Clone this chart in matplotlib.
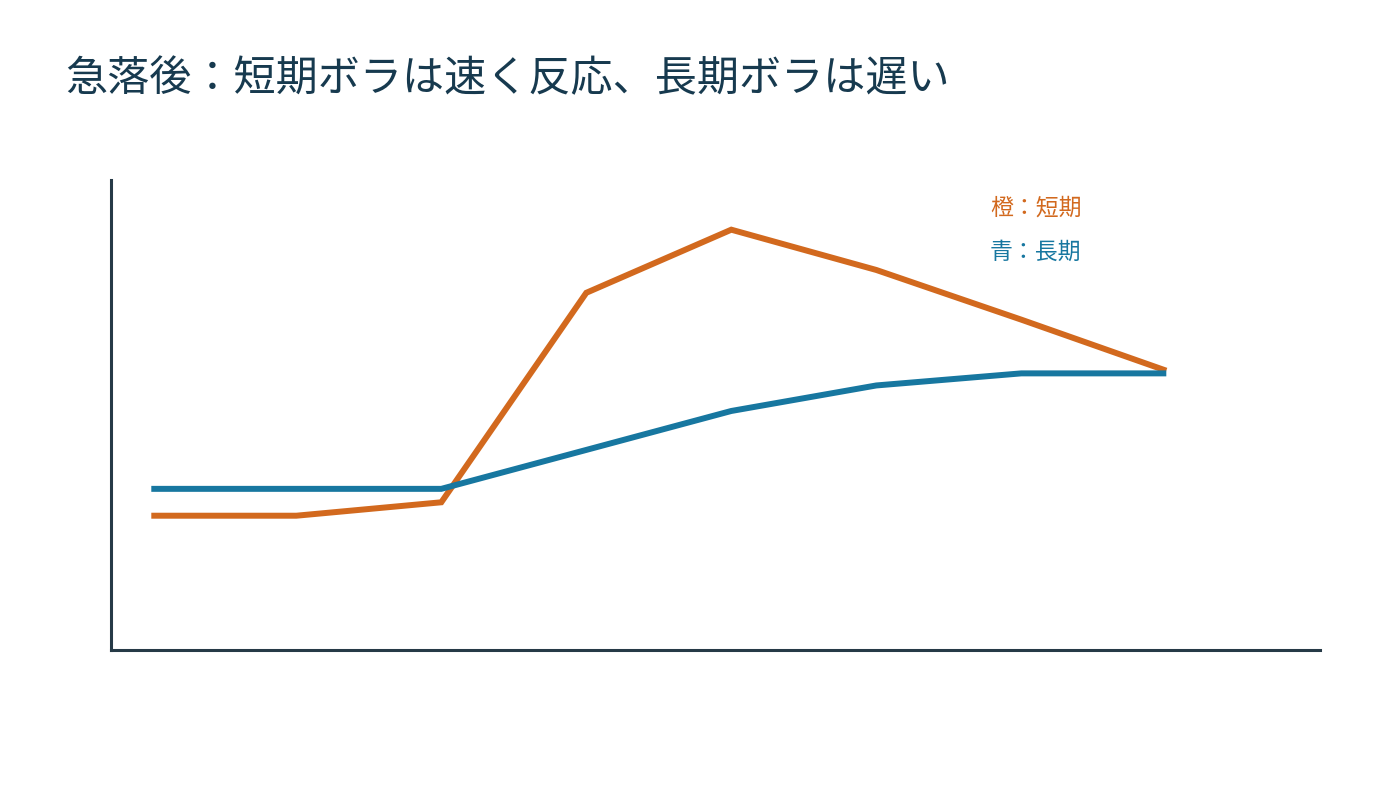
import matplotlib
matplotlib.use("Agg")
import matplotlib.pyplot as plt

plt.rcParams['font.family'] = ['Noto Sans CJK JP', 'DejaVu Sans']

title = "急落後：短期ボラは速く反応、長期ボラは遅い"
steps = [0, 1, 2, 3, 4, 5, 6, 7]
short_vol = [10.0, 10.0, 11.0, 26.6, 31.3, 28.3, 24.6, 20.8]
long_vol = [12.0, 12.0, 12.0, 14.9, 17.8, 19.7, 20.6, 20.6]
label_short = "橙：短期"
label_long = "青：長期"

orange = "#D2691E"
blue = "#1777A0"
dark = "#263A47"
title_color = "#173A4F"

fig = plt.figure(figsize=(14, 7.88), dpi=100)
ax = fig.add_axes([110.7 / 1400, 1 - 650 / 788, (1320 - 110.7) / 1400, (650 - 180) / 788])

ax.plot(steps, short_vol, color=orange, linewidth=4.3, solid_capstyle='butt', solid_joinstyle='miter')
ax.plot(steps, long_vol, color=blue, linewidth=4.3, solid_capstyle='butt', solid_joinstyle='miter')

ax.set_xlim(-0.28, 8.06)
ax.set_ylim(0, 35)
ax.set_xticks([])
ax.set_yticks([])
for s in ['top', 'right']:
    ax.spines[s].set_visible(False)
for s in ['left', 'bottom']:
    ax.spines[s].set_color(dark)
    ax.spines[s].set_linewidth(2.2)

fig.text(65 / 1400, 1 - 79 / 788, title, fontsize=30.3, color=title_color, ha='left', va='center')
fig.text(990 / 1400, 1 - 208 / 788, label_short, fontsize=16.5, color=orange, ha='left', va='center')
fig.text(990 / 1400, 1 - 252 / 788, label_long, fontsize=16.5, color=blue, ha='left', va='center')

fig.savefig("out.png", dpi=100, facecolor='white')
